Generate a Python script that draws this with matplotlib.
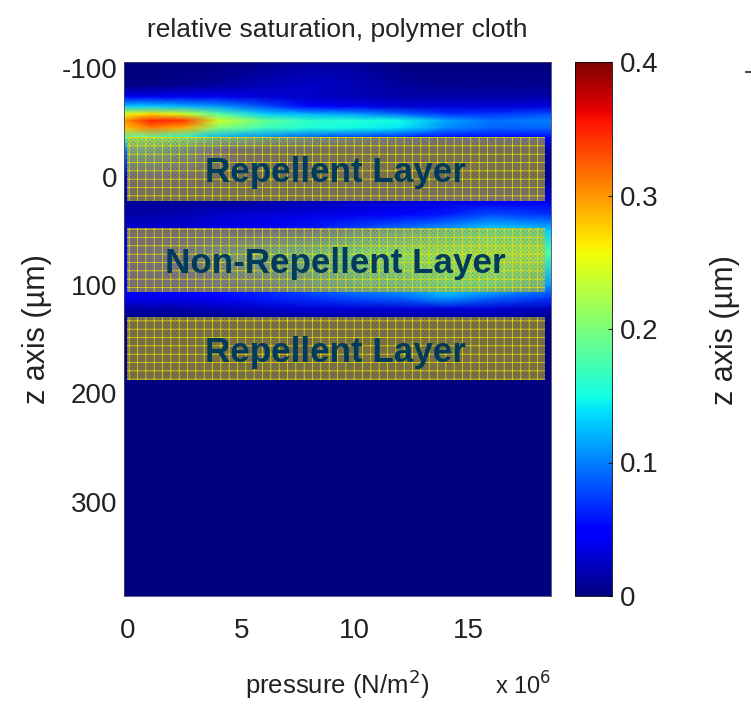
import matplotlib
matplotlib.use("Agg")
import matplotlib.pyplot as plt
import numpy as np
from matplotlib.lines import Line2D
from matplotlib.patches import Rectangle

plt.rcParams["font.family"] = ["Liberation Sans", "DejaVu Sans"]
plt.rcParams["axes.unicode_minus"] = False
plt.rcParams["hatch.linewidth"] = 0.5

pressure = [-0.2, 1, 2.5, 4, 6, 8, 10, 12, 14, 16, 18.7]
z = [-106, -85, -74, -65, -58, -52, -45, -36, -25, 0, 24, 35, 50, 70, 100, 112, 122, 135, 387]
saturation = [
    [0, 0, 0, 0, .005, .01, .01, 0, 0, 0, 0],
    [0, 0, .005, .01, .02, .025, .02, .01, .005, .005, .005],
    [.04, .04, .04, .04, .03, .025, .02, .015, .015, .015, .015],
    [.13, .13, .12, .11, .08, .05, .04, .03, .03, .03, .035],
    [.25, .27, .24, .18, .13, .12, .11, .09, .07, .07, .08],
    [.30, .35, .34, .24, .19, .16, .155, .15, .115, .095, .10],
    [.28, .31, .29, .20, .17, .155, .15, .14, .105, .09, .09],
    [.18, .18, .15, .12, .10, .08, .07, .06, .05, .05, .05],
    [.10, .10, .08, .05, .025, .02, .015, .015, .015, .015, .015],
    [.03, .04, .03, .02, .01, .01, .01, .005, .005, .005, .005],
    [.01, .01, .01, .01, .015, .02, .025, .03, .035, .04, .04],
    [.015, .015, .02, .025, .03, .035, .04, .05, .06, .08, .07],
    [.03, .03, .03, .04, .05, .06, .08, .10, .12, .14, .13],
    [.04, .05, .06, .08, .10, .12, .14, .16, .18, .19, .18],
    [.04, .04, .05, .06, .07, .09, .11, .12, .14, .14, .11],
    [.04, .04, .04, .05, .06, .07, .08, .09, .11, .09, .07],
    [.015, .015, .015, .02, .025, .03, .03, .03, .03, .03, .02],
    [0, 0, 0, 0, 0, 0, 0, 0, 0, 0, 0],
    [0, 0, 0, 0, 0, 0, 0, 0, 0, 0, 0],
]
layers = ["Repellent Layer", "Non-Repellent Layer", "Repellent Layer"]
layer_top = [-37, 47, 129]
layer_bottom = [22, 106, 188]
xticks = [0, 5, 10, 15]
zticks = [-100, 0, 100, 200, 300]
cticks = [0, 0.1, 0.2, 0.3, 0.4]

W, H = 751, 705
fig = plt.figure(figsize=(W / 100, H / 100), dpi=100)
ax = fig.add_axes([124 / W, 1 - 596 / H, 427 / W, 534 / H])
mesh = ax.pcolormesh(pressure, z, np.array(saturation), cmap="jet", vmin=0, vmax=0.4, shading="gouraud")
ax.set_xlim(-0.18, 18.65)
ax.set_ylim(387, -106)
ax.set_xticks(xticks)
ax.set_yticks(zticks)
ax.tick_params(labelsize=20, length=0, colors="#222222")
ax.tick_params(axis="x", pad=16)
ax.tick_params(axis="y", pad=5)
ax.set_title("relative saturation, polymer cloth", fontsize=19, color="#222222", pad=18)
ax.set_xlabel("pressure (N/m$^2$)", fontsize=18.5, color="#222222", labelpad=17)
ax.set_ylabel("z axis (µm)", fontsize=22, color="#222222")
ax.yaxis.set_label_coords((52 - 124) / 427, 0.5)
ax.text(1.0, -0.185, r"x 10$^6$", transform=ax.transAxes, fontsize=17, ha="right", color="#222222")
for s in ax.spines.values():
    s.set_color("#444466")
    s.set_linewidth(0.6)

for name, top, bottom in zip(layers, layer_top, layer_bottom):
    ax.add_patch(Rectangle((-0.05, top), 18.45, bottom - top, facecolor=(0.92, 0.86, 0.0, 0.55),
                           edgecolor="none", zorder=3))
    ax.add_patch(Rectangle((-0.05, top), 18.45, bottom - top, facecolor="none",
                           edgecolor="#3030b0", hatch="xxxxxxxx", linewidth=0, alpha=0.25, zorder=4))
    ax.add_patch(Rectangle((-0.05, top), 18.45, bottom - top, facecolor="none",
                           edgecolor="#e8e000", hatch="++", linewidth=0, zorder=4))
    ax.text(9.15, (top + bottom) / 2 + 3.5, name, fontsize=25.2, fontweight="bold", color="#003a5c", ha="center",
            va="center", zorder=5)

cax = fig.add_axes([575 / W, 1 - 596 / H, 37 / W, 534 / H])
cb = fig.colorbar(mesh, cax=cax, ticks=cticks)
cb.ax.set_yticklabels(["0", "0.1", "0.2", "0.3", "0.4"])
cb.ax.tick_params(labelsize=20, length=3, direction="in", pad=6, colors="#222222")
cb.outline.set_linewidth(0.6)

fig.text(725 / W, 1 - 330 / H, "z axis (µm)", rotation=90, fontsize=22, ha="center", va="center",
         color="#222222")
fig.add_artist(Line2D([746 / W, 751 / W], [1 - 72 / H, 1 - 72 / H], color="#222222", linewidth=1.2))

fig.savefig("out.png", dpi=100)
